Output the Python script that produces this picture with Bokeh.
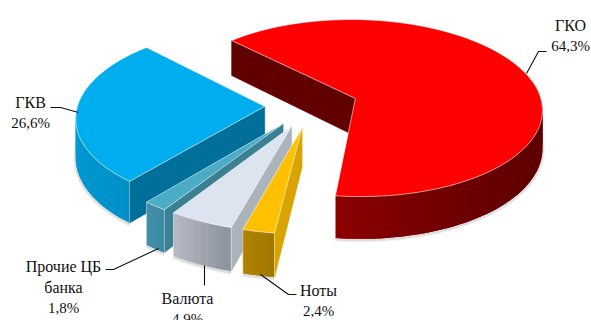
from bokeh.plotting import figure
from bokeh.models import Range1d
from bokeh.core.properties import value
from bokeh.embed import file_html
from bokeh.resources import INLINE
import math

# --- data (clockwise from the first slice) ---
categories = ["ГКО", "Ноты", "Валюта", "Прочие ЦБ банка", "ГКВ"]
shares = [64.3, 2.4, 4.9, 1.8, 26.6]
top_colors = ["#FF0000", "#FFC000", "#DCE4F0", "#4BACC6", "#00AEEF"]
wall_colors = ["#610000", "#D9A300", "#ABB3BB", "#3B7F92", "#00709A"]
side_from = ["#5C0000", "#A07800", "#8F95A0", "#3A8AA4", "#0090C8"]   # clockwise start
side_to = ["#8C0000", "#B08200", "#B4B8C2", "#4590AB", "#00A0DC"]     # clockwise end
side_gamma = [2.5, 1, 1, 1, 1]
label_lines = [["ГКО"], ["Ноты"], ["Валюта"], ["Прочие ЦБ", "банка"], ["ГКВ"]]
pct_text = ["64,3%", "2,4%", "4,9%", "1,8%", "26,6%"]

# --- layout ---
label_pos = [(570, 25), (318, 290), (187, 298), (63, 266), (30, 102)]
leaders = [
    [(526, 73), (538, 51), (546, 51)],
    [(260, 274), (288, 294), (296, 294)],
    [(204, 265), (204, 285)],
    [(158, 248), (113, 269), (105, 269)],
    [(78, 112), (60, 107), (50, 107)],
]
LINE = 20.5
CX, CY, RX, RY, PERSP, DEPTH, EXPLODE, START = 311, 105, 187, 89, 0.11, 38, 0.25, 315.5


def proj(x, y, z=0.0):
    k = 1 / (1 + PERSP * y)
    return CX + RX * x * k, CY - RY * y * k + z * DEPTH * k


def hex2rgb(c):
    return [int(c[i:i + 2], 16) for i in (1, 3, 5)]


def mix(a, b, t):
    A, B = hex2rgb(a), hex2rgb(b)
    return "#%02x%02x%02x" % tuple(round(A[i] + (B[i] - A[i]) * t) for i in range(3))


p = figure(width=591, height=320, x_range=Range1d(0, 591), y_range=Range1d(320, 0),
           output_backend="svg", toolbar_location=None, outline_line_color=None,
           min_border=0, background_fill_color="white", border_fill_color="white")
p.axis.visible = False
p.grid.visible = False

total = sum(shares)
slices = []
a = START
for i, s in enumerate(shares):
    sweep = s / total * 360
    slices.append((i, a, a + sweep))
    a += sweep

order = [0, 4, 3, 2, 1]  # back to front
for i in order:
    _, a0, a1 = slices[i]
    mid = math.radians((a0 + a1) / 2)
    ox, oy = EXPLODE * math.sin(mid), EXPLODE * math.cos(mid)
    n = max(8, int((a1 - a0) / 2))
    angs = [math.radians(a0 + (a1 - a0) * j / n) for j in range(n + 1)]
    rim = [(ox + math.sin(t), oy + math.cos(t)) for t in angs]
    apex = (ox, oy)

    # soft shadow under the outer side
    shadow = [proj(x, y, 1) for x, y in rim if y - oy < 0.15]
    if len(shadow) > 1:
        for w, al in ((5, 0.08), (3, 0.12)):
            p.line([q[0] for q in shadow], [q[1] + 1 for q in shadow],
                   line_color="#555555", line_alpha=al, line_width=w)

    # outer side, facet by facet (visible facets only, each overlapping the next)
    vis = [j for j in range(n) if not (rim[j][1] - oy > 0.2 and rim[j + 1][1] - oy > 0.2)]
    for m, j in enumerate(vis):
        j2 = min(j + 2, n)
        q = [proj(*rim[j]), proj(*rim[j + 1]), proj(*rim[j2]), proj(*rim[j2], 1), proj(*rim[j + 1], 1), proj(*rim[j], 1)]
        t = (m / max(len(vis) - 1, 1)) ** side_gamma[i]
        col = mix(side_from[i], side_to[i], t)
        p.patch([v[0] for v in q], [v[1] for v in q], fill_color=col, line_color=None)

    # cut wall at the clockwise start
    q = [proj(*apex), proj(*rim[0]), proj(*rim[0], 1), proj(*apex, 1)]
    p.patch([v[0] for v in q], [v[1] for v in q], fill_color=wall_colors[i], line_color=wall_colors[i], line_width=0.6)

    # top
    q = [proj(*apex)] + [proj(x, y) for x, y in rim]
    p.patch([v[0] for v in q], [v[1] for v in q], fill_color=top_colors[i],
            line_color="#ffffff", line_alpha=0.55, line_width=1)
    # end corner highlight
    for x, y in (rim[0], rim[-1]):
        if y - oy < 0:
            c0, c1 = proj(x, y), proj(x, y, 1)
            p.line([c0[0], c1[0]], [c0[1], c1[1]], line_color="#ffffff", line_alpha=0.4, line_width=1)

for pts in leaders:
    p.line([v[0] for v in pts], [v[1] for v in pts], line_color="#111111", line_width=1.1)

font = value("Liberation Serif")
for i in range(len(categories)):
    lx, ly = label_pos[i]
    lines = label_lines[i] + [pct_text[i]]
    for k, t in enumerate(lines):
        size = "15px" if k == len(lines) - 1 else "16px"
        p.text([lx], [ly + k * LINE], text=[t], text_font=font, text_font_size=size,
               text_color="#111111", text_align="center", text_baseline="middle")

open("out.html", "w").write(file_html(p, INLINE))
